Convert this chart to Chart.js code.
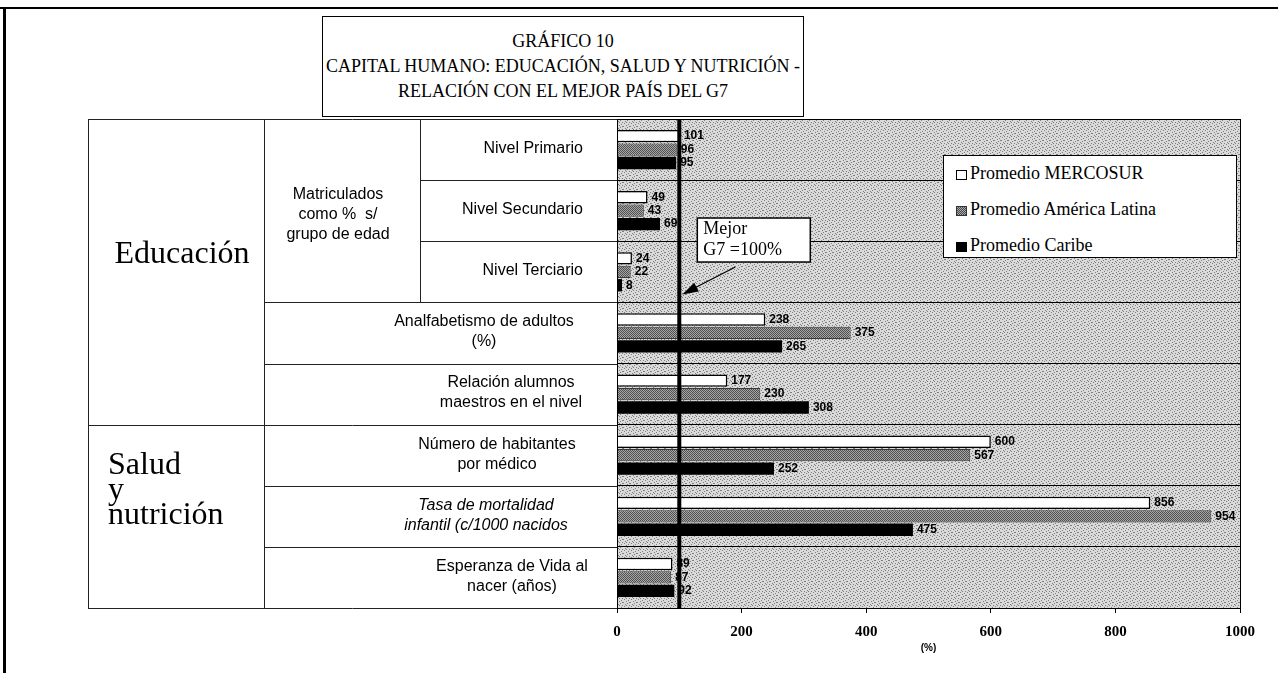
<!DOCTYPE html>
<html lang="es">
<head>
<meta charset="utf-8">
<title>Gráfico 10 - Capital humano</title>
<script src="https://cdn.jsdelivr.net/npm/chart.js@4.4.1/dist/chart.umd.min.js"></script>
<style>
  html, body { margin: 0; padding: 0; background: #fff; }
  #wrap { position: relative; width: 1278px; height: 673px; overflow: hidden; }
  #chart { position: absolute; left: 0; top: 0; }
  .frame-top { position: absolute; left: 0; top: 7px; width: 1278px; height: 2px; background: #000; }
  .frame-left { position: absolute; left: 3px; top: 7px; width: 3px; height: 666px; background: #000; }
  #title {
    position: absolute; left: 322px; top: 16px; width: 482px; height: 101px;
    border: 1.5px solid #000; background: #fff; white-space: nowrap;
    font-family: "Liberation Serif", "Times New Roman", serif; font-size: 18px;
    line-height: 25px; text-align: center; padding-top: 12px; box-sizing: border-box;
  }
  #legend {
    position: absolute; left: 943px; top: 155px; width: 294px; height: 103px;
    border: 1px solid #000; background: #fff; box-sizing: border-box;
    font-family: "Liberation Serif", "Times New Roman", serif; font-size: 18px;
  }
  .item { position: absolute; left: 12px; height: 22px; line-height: 22px; white-space: nowrap; }
  .sw { display: inline-block; width: 11px; height: 10px; margin-right: 3px; box-sizing: border-box; vertical-align: -1px; }
  .sw.w { background: #fff; border: 1.5px solid #000; }
  .sw.g { background: repeating-conic-gradient(#4a4a4a 0 25%, #a8a8a8 0 50%) 0 0 / 2px 2px; border: 1px solid #333; }
  .sw.b { background: #000; }
</style>
</head>
<body>
<div id="wrap">
  <canvas id="chart" width="1278" height="673"></canvas>
  <div class="frame-top"></div>
  <div class="frame-left"></div>
  <div id="title">GRÁFICO 10<br>CAPITAL HUMANO: EDUCACIÓN, SALUD Y NUTRICIÓN -<br>RELACIÓN CON EL MEJOR PAÍS DEL G7</div>
  <div id="legend"></div>
</div>
<script>
// ---- data ----
const categories = [
  ['Nivel Primario'],
  ['Nivel Secundario'],
  ['Nivel Terciario'],
  ['Analfabetismo de adultos', '(%)'],
  ['Relación alumnos', 'maestros en el nivel'],
  ['Número de habitantes', 'por médico'],
  ['Tasa de mortalidad', 'infantil (c/1000 nacidos'],
  ['Esperanza de Vida al', 'nacer (años)']
];
const seriesNames = ['Promedio MERCOSUR', 'Promedio América Latina', 'Promedio Caribe'];
const mercosur = [101, 49, 24, 238, 177, 600, 856, 89];
const americaLatina = [96, 43, 22, 375, 230, 567, 954, 87];
const caribe = [95, 69, 8, 265, 308, 252, 475, 92];
const educacionLabel = ['Educación'];
const saludLabel = ['Salud', 'y', 'nutrición'];
const matriculadosLabel = ['Matriculados', 'como %  s/', 'grupo de edad'];
const bestLabel = ['Mejor', 'G7 =100%'];
const bestG7 = 100;
const xMin = 0, xMax = 1000, xStep = 200;
const xTitle = '(%)';

// ---- layout (table columns, label centres) ----
const colEdu = 88, colSub = 264, colLevel = 420;
const levelRight = 583;
const wideLabelX = [484, 511, 497, 486, 512];
const sansFont = '"Liberation Sans", Arial, sans-serif';
const serifFont = '"Liberation Serif", "Times New Roman", serif';

// stipple patterns
const makePattern = (size, base, dot, cells) => {
  const c = document.createElement('canvas');
  c.width = size; c.height = size;
  const g = c.getContext('2d');
  g.fillStyle = base;
  g.fillRect(0, 0, size, size);
  g.fillStyle = dot;
  cells.forEach(([px, py]) => g.fillRect(px, py, 1, 1));
  return g.createPattern(c, 'repeat');
};
const plotBg = makePattern(7, '#dadada', '#7e7e7e',
  [[0, 0], [4, 1], [2, 2], [6, 3], [1, 4], [5, 5], [3, 6], [6, 0], [3, 3]]);
const greyFill = makePattern(2, '#a6a6a6', '#505050', [[0, 0], [1, 1]]);

// legend
const swClass = ['w', 'g', 'b'];
const legendTop = [6, 42, 78];
document.getElementById('legend').innerHTML = seriesNames.map((n, i) =>
  `<div class="item" style="top:${legendTop[i]}px"><span class="sw ${swClass[i]}"></span>${n}</div>`).join('');

const tablePlugin = {
  id: 'tablePlugin',
  beforeDraw(chart) {
    const { ctx, chartArea: a } = chart;
    ctx.save();
    ctx.fillStyle = plotBg;
    ctx.fillRect(a.left, a.top, a.right - a.left, a.bottom - a.top);
    ctx.restore();
  },
  afterDatasetsDraw(chart) {
    const { ctx, chartArea: a, scales: { x, y } } = chart;
    ctx.save();
    // value labels
    ctx.font = 'bold 12px ' + sansFont;
    ctx.fillStyle = '#000';
    ctx.textBaseline = 'middle';
    chart.data.datasets.forEach((ds, di) => {
      chart.getDatasetMeta(di).data.forEach((bar, i) => {
        ctx.fillText(String(ds.data[i]), bar.x + 4, bar.y);
      });
    });
    // plot frame
    ctx.strokeStyle = '#000';
    ctx.lineWidth = 1;
    ctx.strokeRect(a.left + 0.5, a.top + 0.5, a.right - a.left, a.bottom - a.top);
    // best G7 reference line
    const xr = x.getPixelForValue(bestG7);
    ctx.lineWidth = 4;
    ctx.beginPath();
    ctx.moveTo(xr, a.top);
    ctx.lineTo(xr, a.bottom);
    ctx.stroke();

    // annotation box + arrow
    const rowH = (y.bottom - y.top) / categories.length;
    const bx = xr + 18, by = y.top + rowH * 1.62, bw = 113, bh = 44;
    ctx.fillStyle = '#fff';
    ctx.fillRect(bx, by, bw, bh);
    ctx.lineWidth = 1.5;
    ctx.strokeRect(bx, by, bw, bh);
    ctx.fillStyle = '#000';
    ctx.font = '18px ' + serifFont;
    ctx.textAlign = 'left';
    bestLabel.forEach((t, i) => ctx.fillText(t, bx + 6, by + 11 + i * 21));
    const tx = xr + 3, ty = y.top + rowH * 2.87;
    const sx = bx + 38, sy = by + bh + 5;
    const ang = Math.atan2(ty - sy, tx - sx);
    ctx.lineWidth = 1.2;
    ctx.beginPath();
    ctx.moveTo(sx, sy);
    ctx.lineTo(tx - Math.cos(ang) * 10, ty - Math.sin(ang) * 10);
    ctx.stroke();
    ctx.beginPath();
    ctx.moveTo(tx, ty);
    ctx.lineTo(tx - Math.cos(ang) * 16 + Math.sin(ang) * 5, ty - Math.sin(ang) * 16 - Math.cos(ang) * 5);
    ctx.lineTo(tx - Math.cos(ang) * 16 - Math.sin(ang) * 5, ty - Math.sin(ang) * 16 + Math.cos(ang) * 5);
    ctx.closePath();
    ctx.fill();
    ctx.restore();
  },
  afterDraw(chart) {
    const { ctx, chartArea: a, scales: { y } } = chart;
    const rowH = (y.bottom - y.top) / categories.length;
    const edge = i => Math.round(y.top + i * rowH) + 0.5;
    const mid = i => y.getPixelForValue(i);
    const line = (x0, y0, x1, y1) => { ctx.beginPath(); ctx.moveTo(x0, y0); ctx.lineTo(x1, y1); ctx.stroke(); };
    ctx.save();
    ctx.strokeStyle = '#222';
    ctx.lineWidth = 1;
    const R = a.left;
    line(colEdu, edge(0), R, edge(0));
    line(colEdu, edge(8), R, edge(8));
    line(colEdu + 0.5, edge(0), colEdu + 0.5, edge(8));
    line(colSub + 0.5, edge(0), colSub + 0.5, edge(8));
    line(colLevel + 0.5, edge(0), colLevel + 0.5, edge(3));
    for (let i = 1; i < categories.length; i++) {
      const x0 = i < 3 ? colLevel : (i === 5 ? colEdu : colSub);
      line(x0, edge(i), R, edge(i));
    }
    ctx.fillStyle = '#000';
    ctx.textBaseline = 'middle';
    ctx.font = '16px ' + sansFont;
    categories.forEach((lines, i) => {
      if (i < 3) {
        ctx.textAlign = 'right';
        ctx.fillText(lines[0], levelRight, mid(i) - 1);
      } else {
        ctx.textAlign = 'center';
        ctx.font = (i === 6 ? 'italic ' : '') + '16px ' + sansFont;
        lines.forEach((t, k) => ctx.fillText(t, wideLabelX[i - 3], mid(i) - 11 + k * 20));
      }
    });
    ctx.font = '16px ' + sansFont;
    ctx.textAlign = 'center';
    matriculadosLabel.forEach((t, k) => ctx.fillText(t, 338, mid(1) - 16 + k * 20));
    ctx.font = '32px ' + serifFont;
    ctx.fillText(educacionLabel[0], (colEdu + colSub) / 2 + 6, edge(0) + 135);
    ctx.textAlign = 'left';
    saludLabel.forEach((t, k) => ctx.fillText(t, colEdu + 20, edge(5) + 40 + k * 25));
    ctx.restore();
  }
};

new Chart(document.getElementById('chart').getContext('2d'), {
  type: 'bar',
  data: {
    labels: categories,
    datasets: [
      { label: seriesNames[0], data: mercosur, backgroundColor: '#fff', borderColor: '#000', borderWidth: 1.5 },
      { label: seriesNames[1], data: americaLatina, backgroundColor: greyFill, borderColor: '#3a3a3a', borderWidth: 1 },
      { label: seriesNames[2], data: caribe, backgroundColor: '#000', borderWidth: 0 }
    ]
  },
  options: {
    indexAxis: 'y',
    responsive: false,
    animation: false,
    devicePixelRatio: 1,
    datasets: { bar: { barPercentage: 0.92, categoryPercentage: 0.66 } },
    layout: { padding: { left: 617, top: 119, right: 38, bottom: 17 } },
    plugins: { legend: { display: false }, tooltip: { enabled: false } },
    scales: {
      x: {
        min: xMin, max: xMax,
        ticks: { stepSize: xStep, color: '#000', padding: 10, callback: v => String(v), font: { family: serifFont, weight: 'bold', size: 15 } },
        grid: { drawOnChartArea: false, drawTicks: true, tickLength: 5, color: '#000' },
        border: { color: '#000', width: 1 },
        title: { display: true, text: xTitle, color: '#000', padding: { top: 0, bottom: 2 }, font: { family: sansFont, weight: 'bold', size: 10 } },
        afterFit: s => { s.height = 48; }
      },
      y: {
        ticks: { display: false },
        grid: { color: '#000', lineWidth: 1, drawTicks: false, offset: true },
        border: { color: '#000', width: 1 },
        afterFit: s => { s.width = 0; }
      }
    }
  },
  plugins: [tablePlugin]
});
</script>
</body>
</html>
